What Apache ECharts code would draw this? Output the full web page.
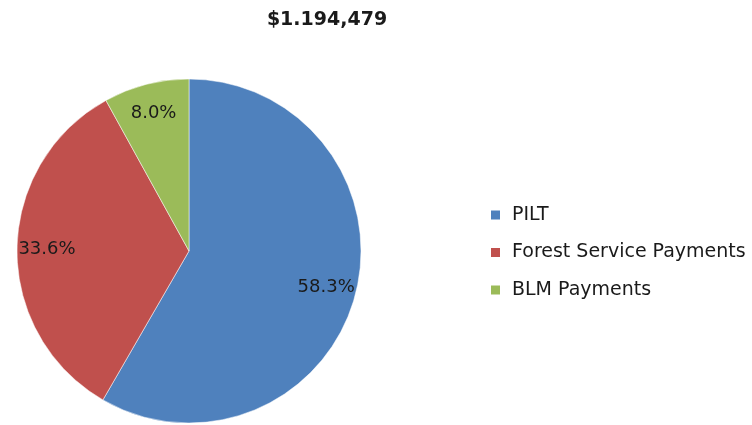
<!DOCTYPE html>
<html>
<head>
<meta charset="utf-8">
<script src="https://cdn.jsdelivr.net/npm/echarts@6/dist/echarts.min.js"></script>
<style>
  html, body { margin: 0; padding: 0; background: #fff; }
  #chart { width: 752px; height: 425px; }
</style>
</head>
<body>
<div id="chart"></div>
<script>
  // data
  var categories = ['PILT', 'Forest Service Payments', 'BLM Payments'];
  var amounts = [696880, 401800, 95799];
  var colors = ['#4F81BD', '#C0504D', '#9BBB59'];
  var totalLabel = '$1.194,479';

  var seriesData = categories.map(function (name, i) {
    return { name: name, value: amounts[i] };
  });

  var myChart = echarts.init(document.getElementById('chart'));
  var fontFam = '"DejaVu Sans", sans-serif';

  var options = {
    color: colors,
    animation: false,
    title: {
      text: totalLabel,
      left: 322,
      top: 6,
      textAlign: 'center',
      textStyle: { fontFamily: fontFam, fontSize: 19, fontWeight: 'bold', color: '#1a1a1a' }
    },
    legend: {
      orient: 'vertical',
      left: 486,
      top: 200,
      icon: 'rect',
      itemWidth: 9,
      itemHeight: 9,
      itemGap: 17.5,
      itemStyle: { borderWidth: 0 },
      data: categories,
      textStyle: { fontFamily: fontFam, fontSize: 19, color: '#1a1a1a', lineHeight: 20, padding: [0, 0, 0, 7] }
    },
    series: [
      {
        name: 'main',
        type: 'pie',
        center: [189, 251],
        radius: 172,
        startAngle: 90,
        data: seriesData,
        label: { show: false },
        labelLine: { show: false },
        itemStyle: { borderColor: '#fff', borderWidth: 0.5 }
      },
      {
        // transparent ring only used to place the labels near the rim
        name: 'labels',
        type: 'pie',
        silent: true,
        center: [189, 251],
        radius: [106, 172],
        startAngle: 90,
        data: seriesData,
        itemStyle: { color: 'transparent' },
        label: {
          show: true,
          position: 'inside',
          fontFamily: fontFam,
          fontSize: 18,
          color: '#1a1a1a',
          formatter: function (p) { return p.percent.toFixed(1) + '%'; }
        },
        labelLine: { show: false }
      }
    ]
  };
  myChart.setOption(options);
</script>
</body>
</html>
